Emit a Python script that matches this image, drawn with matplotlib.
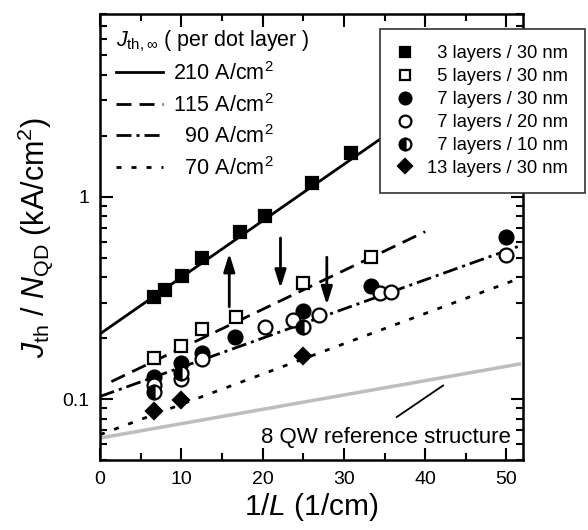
import numpy as np
import matplotlib
matplotlib.use("Agg")
import matplotlib.pyplot as plt
from matplotlib.ticker import LogLocator, NullFormatter, MultipleLocator

plt.rcParams['font.family'] = ['Liberation Sans', 'DejaVu Sans']
plt.rcParams['mathtext.fontset'] = 'custom'
plt.rcParams['mathtext.rm'] = 'Liberation Sans'
plt.rcParams['mathtext.it'] = 'Liberation Sans:italic'
plt.rcParams['mathtext.bf'] = 'Liberation Sans:bold'

# measured points, x = 1/L (1/cm), y = Jth/NQD (kA/cm^2)
x_3l30 = [6.6, 8.0, 10.1, 12.6, 17.2, 20.3, 26.1, 30.9]
y_3l30 = [0.32, 0.346, 0.406, 0.498, 0.67, 0.80, 1.17, 1.64]

x_5l30 = [6.7, 10.0, 12.5, 16.7, 25.0, 33.3]
y_5l30 = [0.159, 0.182, 0.222, 0.254, 0.374, 0.506]

x_7l30 = [6.7, 10.0, 12.5, 16.6, 25.0, 33.3, 50.0]
y_7l30 = [0.128, 0.150, 0.169, 0.202, 0.272, 0.362, 0.635]

x_7l20 = [6.7, 10.0, 12.5, 20.3, 23.7, 26.9, 34.4, 35.8, 50.0]
y_7l20 = [0.117, 0.126, 0.158, 0.228, 0.247, 0.261, 0.333, 0.340, 0.515]

x_7l10 = [6.7, 10.0, 25.0]
y_7l10 = [0.108, 0.135, 0.228]

x_13l30 = [6.7, 10.0, 25.0]
y_13l30 = [0.0869, 0.0985, 0.1636]

# fit lines (start/end points) and their J_th,inf labels
fit_x = [[0, 40], [1.4, 40], [0, 51.6], [0, 51.3]]
fit_y = [[0.21, 2.75], [0.122, 0.672], [0.103, 0.571], [0.0667, 0.391]]
fit_labels = ['210 A/cm$^2$', '115 A/cm$^2$', '  90 A/cm$^2$', '  70 A/cm$^2$']

# 8 QW reference structure
ref_x = [0, 51.6]
ref_y = [0.0642, 0.149]
ref_pointer_x = [36.5, 42.2]
ref_pointer_y = [0.0815, 0.1167]

# arrows: (x, tail y, tip y)
arrows = [(15.9, 0.286, 0.525), (22.2, 0.625, 0.353), (27.9, 0.502, 0.292)]

fig = plt.figure(figsize=(5.88, 5.30), dpi=100)
ax = fig.add_axes([0.1701, 0.1321, 0.7189, 0.8415])

styles = [dict(ls='-'), dict(dashes=(5.4, 2.9)), dict(dashes=(5.4, 1.8, 1.1, 1.8)),
          dict(dashes=(1.8, 3.6))]
fit_handles = []
for fx, fy, st in zip(fit_x, fit_y, styles):
    h, = ax.plot(fx, fy, color='k', lw=2, **st)
    fit_handles.append(h)

ax.plot(ref_x, ref_y, color='#bdbdbd', lw=2.5, zorder=1)
ax.plot(ref_pointer_x, ref_pointer_y, color='k', lw=1.3)
ax.text(50.6, 0.0648, '8 QW reference structure', ha='right', va='center', fontsize=16)

for xa, y0, y1 in arrows:
    ax.annotate('', xy=(xa, y1), xytext=(xa, y0),
                arrowprops=dict(arrowstyle='-|>,head_length=0.9,head_width=0.28',
                                color='k', lw=2, mutation_scale=12, shrinkA=0, shrinkB=0))

mk = dict(ls='none', mec='k', mew=1.6, zorder=5)
h1, = ax.plot(x_3l30, y_3l30, 's', ms=9, mfc='k', **mk)
h2, = ax.plot(x_5l30, y_5l30, 's', ms=9, mfc='white', **mk)
h3, = ax.plot(x_7l30, y_7l30, 'o', ms=10, mfc='k', **mk)
h4, = ax.plot(x_7l20, y_7l20, 'o', ms=10, mfc='white', **mk)
h5, = ax.plot(x_7l10, y_7l10, 'o', ms=10, mfc='k', fillstyle='left', markerfacecoloralt='white', **mk)
h6, = ax.plot(x_13l30, y_13l30, 'D', ms=8, mfc='k', **mk)

ax.set_yscale('log')
ax.set_xlim(0, 52)
ax.set_ylim(0.05, 8)
ax.set_xticks([0, 10, 20, 30, 40, 50])
ax.xaxis.set_minor_locator(MultipleLocator(5))
ax.set_yticks([0.1, 1])
ax.set_yticklabels(['0.1', '1'])
ax.yaxis.set_minor_locator(LogLocator(base=10, subs=np.arange(2, 10)))
ax.yaxis.set_minor_formatter(NullFormatter())
ax.tick_params(which='both', direction='in', top=True, right=True, width=1.5, labelsize=14)
ax.tick_params(which='major', length=9, pad=8)
ax.tick_params(which='minor', length=5)
for s in ax.spines.values():
    s.set_linewidth(1.8)

ax.set_xlabel('1/$L$ (1/cm)', fontsize=21.5, labelpad=2)
ax.set_ylabel('$J_{\\mathrm{th}}$ / $N_{\\mathrm{QD}}$ (kA/cm$^2$)', fontsize=22, labelpad=4)

leg1 = ax.legend(fit_handles, fit_labels, loc='upper left', bbox_to_anchor=(116 / 588, 1 - 28 / 530),
                 bbox_transform=fig.transFigure, frameon=False, fontsize=15.5, handlelength=2.2,
                 handletextpad=0.45, labelspacing=0.4, borderpad=0, borderaxespad=0,
                 title='$J_{\\mathrm{th},\\infty}$ ( per dot layer )', title_fontsize=15.5,
                 alignment='left')
ax.add_artist(leg1)

leg2 = ax.legend([h1, h2, h3, h4, h5, h6],
                 ['  3 layers / 30 nm', '  5 layers / 30 nm', '  7 layers / 30 nm',
                  '  7 layers / 20 nm', '  7 layers / 10 nm', '13 layers / 30 nm'],
                 loc='upper right', bbox_to_anchor=(585 / 588, 1 - 29 / 530),
                 bbox_transform=fig.transFigure, fontsize=13.2, fancybox=False,
                 edgecolor='#333333', framealpha=1, labelspacing=0.32, handlelength=1.0,
                 handletextpad=0.7, borderaxespad=0, borderpad=0.9, markerscale=0.85)
leg2.get_frame().set_linewidth(1.2)
leg2.set_zorder(10)

fig.savefig('out.png', dpi=100)
